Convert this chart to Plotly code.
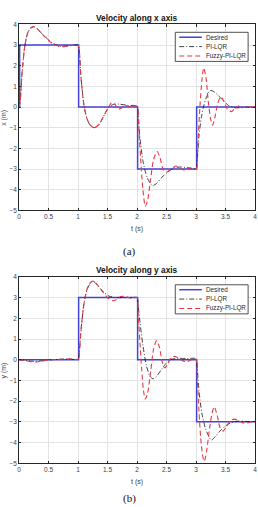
import plotly.graph_objects as go

# ---------------- data ----------------
# Velocity along x axis
x_des_t = [0, 0.01, 0.01, 1.01, 1.01, 2.01, 2.01, 3.01, 3.01, 4.0]
x_des_v = [0, 0, 3, 3, 0, 0, -3, -3, 0, 0]

x_pi_t = [0, 0.02, 0.05, 0.1, 0.15, 0.2, 0.26, 0.33, 0.43, 0.55, 0.7, 0.85, 1.0,
          1.02, 1.05, 1.1, 1.15, 1.2, 1.27, 1.35, 1.45, 1.52, 1.6, 1.7, 1.85, 2.0,
          2.02, 2.05, 2.1, 2.17, 2.26, 2.33, 2.42, 2.52, 2.63, 2.75, 2.9, 3.0,
          3.02, 3.05, 3.09, 3.13, 3.18, 3.24, 3.3, 3.38, 3.45, 3.55, 3.65, 3.75, 3.9, 4.0]
x_pi_v = [0, 0.3, 1.6, 3.0, 3.6, 3.82, 3.88, 3.72, 3.44, 3.13, 2.94, 2.97, 3.0,
          2.75, 1.45, 0.1, -0.55, -0.85, -1.0, -0.88, -0.35, 0.0, 0.13, 0.14, 0.08, 0.05,
          -0.4, -1.5, -2.6, -3.4, -3.8, -3.7, -3.4, -3.15, -2.94, -2.9, -2.95, -3.0,
          -2.6, -1.4, -0.5, 0.05, 0.5, 0.8, 0.75, 0.55, 0.35, 0.08, -0.03, -0.03, 0.0, 0.0]

x_fz_t = [0, 0.02, 0.05, 0.1, 0.15, 0.2, 0.26, 0.33, 0.43, 0.55, 0.7, 0.85, 1.0,
          1.02, 1.05, 1.1, 1.15, 1.2, 1.27, 1.35, 1.45, 1.52, 1.57, 1.63, 1.68, 1.74, 1.8, 1.88, 1.95, 2.0,
          2.03, 2.07, 2.1, 2.14, 2.18, 2.23, 2.28, 2.34, 2.39, 2.44, 2.5, 2.57, 2.66, 2.73, 2.8, 2.9, 3.0,
          3.03, 3.07, 3.1, 3.13, 3.17, 3.21, 3.25, 3.28, 3.32, 3.37, 3.42, 3.47, 3.53, 3.6, 3.66,
          3.72, 3.8, 3.9, 4.0]
x_fz_v = [0, 0.3, 1.6, 3.0, 3.62, 3.84, 3.9, 3.72, 3.42, 3.1, 2.92, 2.96, 3.0,
          2.75, 1.45, 0.1, -0.55, -0.85, -1.0, -0.85, -0.35, 0.0, 0.22, 0.12, -0.1, -0.05, 0.08, 0.02, 0.05, 0.05,
          -1.0, -2.9, -4.0, -4.8, -4.5, -3.5, -2.55, -2.15, -2.45, -3.0, -3.15, -3.0, -2.85, -2.95, -3.05, -2.95, -3.0,
          -1.8, 0.2, 1.3, 1.9, 1.4, 0.2, -0.6, -0.88, -0.5, 0.2, 0.5, 0.3, -0.1, -0.22, -0.05,
          0.05, -0.03, 0.03, 0.0]

# Velocity along y axis
y_des_t = [0, 1.01, 1.01, 2.01, 2.01, 3.01, 3.01, 4.0]
y_des_v = [0, 0, 3, 3, 0, 0, -3, -3]

y_pi_t = [0, 0.1, 0.2, 0.3, 0.4, 0.55, 0.7, 0.85, 1.0,
          1.02, 1.05, 1.1, 1.15, 1.2, 1.26, 1.33, 1.42, 1.52, 1.62, 1.75, 1.9, 2.0,
          2.02, 2.05, 2.1, 2.16, 2.22, 2.27, 2.33, 2.42, 2.5, 2.58, 2.7, 2.85, 3.0,
          3.02, 3.05, 3.1, 3.17, 3.26, 3.33, 3.42, 3.5, 3.58, 3.7, 3.85, 4.0]
y_pi_v = [0, -0.03, -0.07, -0.08, -0.05, 0.0, 0.02, 0.03, 0.03,
          0.3, 1.4, 2.7, 3.35, 3.65, 3.78, 3.6, 3.3, 3.08, 3.0, 3.0, 3.0, 3.0,
          2.6, 1.8, 0.7, -0.3, -0.8, -0.92, -0.8, -0.45, -0.15, 0.02, 0.05, 0.05, 0.05,
          -0.4, -1.5, -2.6, -3.4, -3.88, -3.7, -3.4, -3.2, -3.06, -2.97, -2.98, -3.0]

y_fz_t = [0, 0.1, 0.2, 0.3, 0.4, 0.55, 0.7, 0.85, 1.0,
          1.02, 1.05, 1.1, 1.15, 1.2, 1.26, 1.33, 1.42, 1.5, 1.58, 1.65, 1.72, 1.8, 1.9, 2.0,
          2.02, 2.05, 2.08, 2.11, 2.14, 2.18, 2.23, 2.28, 2.33, 2.38, 2.43, 2.47, 2.52, 2.58, 2.64,
          2.72, 2.8, 2.85, 2.92, 3.0,
          3.02, 3.05, 3.08, 3.11, 3.14, 3.18, 3.23, 3.27, 3.31, 3.36, 3.41, 3.46, 3.52, 3.58, 3.65,
          3.72, 3.8, 3.87, 3.95, 4.0]
y_fz_v = [0, -0.04, -0.09, -0.11, -0.06, 0.0, 0.02, 0.04, 0.03,
          0.3, 1.4, 2.7, 3.4, 3.7, 3.8, 3.6, 3.28, 3.0, 2.85, 2.9, 3.05, 3.05, 2.97, 3.0,
          2.2, 0.8, -0.5, -1.5, -1.9, -1.6, -0.6, 0.5, 0.92, 0.6, -0.15, -0.4, -0.2, 0.1, 0.16,
          0.05, -0.08, -0.1, 0.0, 0.02,
          -0.8, -2.5, -3.8, -4.6, -4.9, -4.4, -3.3, -2.6, -2.27, -2.7, -3.3, -3.45, -3.2, -2.95, -2.87,
          -2.95, -3.05, -3.05, -2.98, -3.0]

x_ticks = [0, 0.5, 1, 1.5, 2, 2.5, 3, 3.5, 4]
x_tick_labels = ["0", "0.5", "1", "1.5", "2", "2.5", "3", "3.5", "4"]
y_ticks = [-5, -4, -3, -2, -1, 0, 1, 2, 3, 4]
series_names = ["Desired", "PI-LQR", "Fuzzy-PI-LQR"]

# ---------------- styling / layout ----------------
W, H = 258, 507
FONT = "Liberation Sans, Arial, sans-serif"
C_DES = "#4343d8"
C_PI = "#111111"
C_FZ = "#e63a42"
styles = [
    dict(color=C_DES, width=1.5, dash="solid"),
    dict(color=C_PI, width=0.8, dash="5px,2px,1px,2px"),
    dict(color=C_FZ, width=1.1, dash="5px,3px"),
]

def fx(px):
    return px / W

def fy(py):
    return 1 - py / H

panels = [
    dict(top=20.7, bot=209.3, title="Velocity along x axis", ylab="x (m)", cap="(a)", capy=251,
         data=[(x_des_t, x_des_v), (x_pi_t, x_pi_v), (x_fz_t, x_fz_v)]),
    dict(top=276.7, bot=465.7, title="Velocity along y axis", ylab="y (m)", cap="(b)", capy=501,
         data=[(y_des_t, y_des_v), (y_pi_t, y_pi_v), (y_fz_t, y_fz_v)]),
]
L_PX, R_PX = 17.3, 257.0

fig = go.Figure()
annotations = []
shapes = []

for i, p in enumerate(panels):
    ax = "" if i == 0 else str(i + 1)
    for k, (t, v) in enumerate(p["data"]):
        st = styles[k]
        fig.add_trace(go.Scatter(
            x=t, y=v, mode="lines", name=series_names[k], showlegend=False,
            xaxis="x" + ax, yaxis="y" + ax,
            line=dict(color=st["color"], width=st["width"], dash=st["dash"],
                      shape="linear" if k == 0 else "spline", smoothing=0.7),
        ))
    axis_common = dict(
        showgrid=True, gridcolor="#e3e3e3", gridwidth=0.8,
        showline=True, linecolor="#262626", linewidth=0.8, mirror="ticks",
        ticks="inside", ticklen=2.5, tickwidth=0.7, tickcolor="#262626",
        tickfont=dict(family=FONT, size=6.5, color="#404040"),
        ticklabeloverflow="allow",
        zeroline=False, fixedrange=True,
    )
    fig.layout["xaxis" + ax] = dict(
        axis_common, domain=[fx(L_PX), fx(R_PX)], range=[0, 4],
        tickvals=x_ticks, ticktext=x_tick_labels, anchor="y" + ax,
    )
    fig.layout["yaxis" + ax] = dict(
        axis_common, domain=[fy(p["bot"]), fy(p["top"])], range=[-5, 4],
        tickvals=y_ticks, anchor="x" + ax,
    )
    cx = fx((L_PX + R_PX) / 2)
    annotations += [
        dict(text="<b>" + p["title"] + "</b>", x=cx, y=fy(p["top"] - 6.5), xref="paper", yref="paper",
             showarrow=False, font=dict(family=FONT, size=8.3, color="#111"), yanchor="middle"),
        dict(text="t (s)", x=cx, y=fy(p["bot"] + 19), xref="paper", yref="paper",
             showarrow=False, font=dict(family=FONT, size=7, color="#404040"), yanchor="middle"),
        dict(text=p["ylab"], x=fx(2.5), y=fy((p["top"] + p["bot"]) / 2), xref="paper", yref="paper",
             showarrow=False, textangle=-90, font=dict(family=FONT, size=7, color="#404040"),
             xanchor="center", yanchor="middle"),
        dict(text=p["cap"], x=fx(130), y=fy(p["capy"]), xref="paper", yref="paper",
             showarrow=False, font=dict(family="Liberation Serif, Times New Roman, serif", size=11, color="#111"),
             yanchor="middle"),
    ]
    # legend box
    bt = p["top"] + 8
    bb = bt + 29.5
    shapes.append(dict(type="rect", xref="paper", yref="paper", x0=fx(176), x1=fx(250),
                       y0=fy(bb), y1=fy(bt), line=dict(color="#262626", width=0.8), fillcolor="white"))
    for k in range(3):
        yy = bt + 5 + 9.5 * k
        st = styles[k]
        shapes.append(dict(type="line", xref="paper", yref="paper", x0=fx(180), x1=fx(203),
                           y0=fy(yy), y1=fy(yy),
                           line=dict(color=st["color"], width=st["width"], dash=st["dash"])))
        annotations.append(dict(text=series_names[k], x=fx(205), y=fy(yy), xref="paper", yref="paper",
                                showarrow=False, xanchor="left", yanchor="middle",
                                font=dict(family=FONT, size=6.3, color="#262626")))

fig.update_layout(
    width=W, height=H, margin=dict(l=0, r=0, t=0, b=0),
    paper_bgcolor="white", plot_bgcolor="white",
    annotations=annotations, shapes=shapes, showlegend=False,
)
fig.write_html("out.html", config={"displayModeBar": False})
